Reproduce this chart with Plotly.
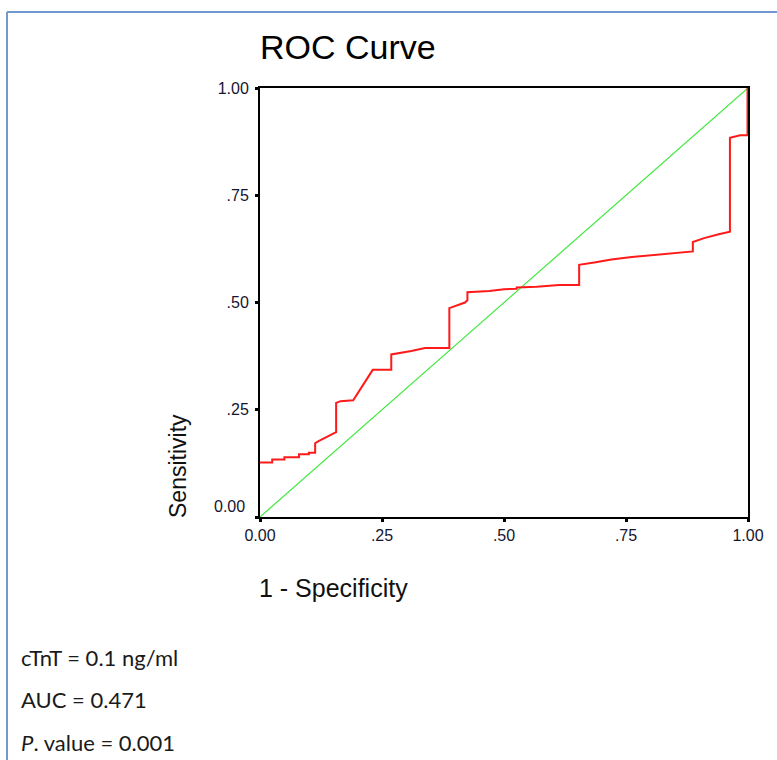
import plotly.graph_objects as go

# ---- data ----
fpr = [0.000, 0.025, 0.025, 0.050, 0.050, 0.080, 0.080, 0.100, 0.100, 0.113, 0.113,
       0.120, 0.156, 0.156, 0.165, 0.191, 0.231, 0.269, 0.269, 0.290, 0.310, 0.338,
       0.388, 0.388, 0.420, 0.425, 0.425, 0.470, 0.500, 0.526, 0.526, 0.567, 0.613,
       0.654, 0.654, 0.688, 0.720, 0.762, 0.826, 0.887, 0.887, 0.910, 0.940, 0.963,
       0.963, 0.984, 0.999, 0.999]
tpr = [0.127, 0.127, 0.134, 0.134, 0.139, 0.139, 0.146, 0.146, 0.150, 0.150, 0.172,
       0.177, 0.198, 0.266, 0.270, 0.272, 0.343, 0.343, 0.379, 0.383, 0.387, 0.394,
       0.394, 0.487, 0.500, 0.505, 0.524, 0.527, 0.531, 0.532, 0.535, 0.537, 0.541,
       0.541, 0.588, 0.594, 0.600, 0.606, 0.613, 0.619, 0.641, 0.650, 0.659, 0.665,
       0.884, 0.890, 0.890, 1.000]
ref_x = [0.0, 1.0]
ref_y = [0.0, 1.0]
tick_vals = [0.0, 0.25, 0.5, 0.75, 1.0]
x_tick_text = ["0.00", ".25", ".50", ".75", "1.00"]
y_tick_text = ["", ".25", ".50", ".75", "1.00"]   # "0.00" drawn slightly raised, as in the reference
y_zero_label = "0.00"
info_lines = ["cTnT = 0.1 ng/ml", "AUC = 0.471", "<i>P</i>. value = 0.001"]

W, H = 777, 760
L, R, T, B = 260, 748, 88, 517


def px(x):
    return (x - L) / (R - L)


def py(y):
    return (B - y) / (B - T)


fig = go.Figure()
fig.add_trace(go.Scatter(x=ref_x, y=ref_y, mode="lines",
                         line=dict(color="#3ee83e", width=1.2),
                         hoverinfo="skip", showlegend=False))
fig.add_trace(go.Scatter(x=fpr, y=tpr, mode="lines",
                         line=dict(color="#ff1a1a", width=2),
                         hoverinfo="skip", showlegend=False))

tick_font = dict(family="Liberation Sans, Arial", size=16, color="#151530")
axis_common = dict(range=[0, 1], tickvals=tick_vals,
                   showgrid=False, zeroline=False, showline=True, mirror=True,
                   linecolor="black", linewidth=2, ticks="outside",
                   ticklen=3, tickwidth=3, tickcolor="black", tickfont=tick_font)
fig.update_xaxes(ticktext=x_tick_text, **axis_common)
fig.update_yaxes(ticktext=y_tick_text, ticklabelstandoff=3, **axis_common)

ann = []
ann.append(dict(text=y_zero_label, x=px(247), y=py(506), xref="paper", yref="paper",
                xanchor="right", yanchor="middle", showarrow=False, font=tick_font))
ann.append(dict(text="ROC Curve", x=px(258), y=py(47), xref="paper", yref="paper",
                xanchor="left", yanchor="middle", showarrow=False,
                font=dict(family="Liberation Sans, Arial", size=34, color="black")))
ann.append(dict(text="1 - Specificity", x=px(257), y=py(588), xref="paper", yref="paper",
                xanchor="left", yanchor="middle", showarrow=False,
                font=dict(family="Liberation Sans, Arial", size=25, color="#111111")))
ann.append(dict(text="Sensitivity", x=px(178), y=py(466), xref="paper", yref="paper",
                xanchor="center", yanchor="middle", showarrow=False, textangle=-90,
                font=dict(family="Liberation Sans, Arial", size=23, color="#111111")))
for i, t in enumerate(info_lines):
    ann.append(dict(text=t, x=px(19), y=py(657 + 42.5 * i), xref="paper", yref="paper",
                    xanchor="left", yanchor="middle", showarrow=False,
                    font=dict(family="Lato, Noto Sans", size=22, color="#1a1a1a")))

shapes = [
    dict(type="line", xref="paper", yref="paper", x0=px(7), y0=py(12), x1=px(800), y1=py(12),
         line=dict(color="#7199cf", width=2)),
    dict(type="line", xref="paper", yref="paper", x0=px(7), y0=py(12), x1=px(7), y1=py(800),
         line=dict(color="#7199cf", width=2)),
]

fig.update_layout(width=W, height=H, autosize=False,
                  margin=dict(l=L, r=W - R, t=T, b=H - B, pad=0),
                  paper_bgcolor="white", plot_bgcolor="white",
                  annotations=ann, shapes=shapes, showlegend=False)

fig.write_html("out.html", config={"displayModeBar": False},
               post_script="document.body.style.margin='0';document.body.style.overflow='hidden';")
